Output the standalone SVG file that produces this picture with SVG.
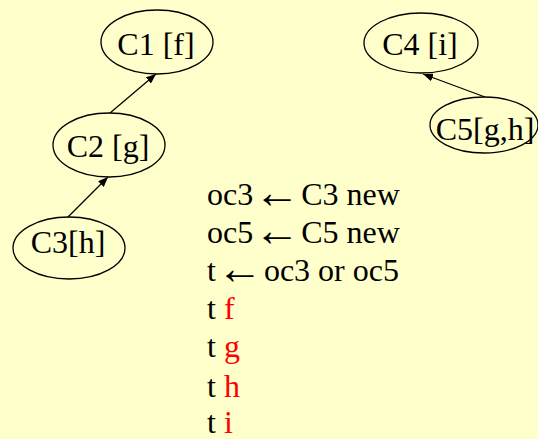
<svg xmlns="http://www.w3.org/2000/svg" width="538" height="439" viewBox="0 0 538 439" font-family="Liberation Serif, Times New Roman, serif" font-size="32">
<defs>
<style>
.n ellipse{fill:none;stroke:#000;stroke-width:1.3}
.n text{text-anchor:middle}
.r{fill:#FF0000}
.a{font-size:46px}
.e line{stroke:#000;stroke-width:1.3;marker-end:url(#ah)}
</style>
<marker id="ah" viewBox="0 0 10 8" refX="10" refY="4" markerWidth="10" markerHeight="8" markerUnits="userSpaceOnUse" orient="auto">
<path d="M0,0 L10,4 L0,8 Z" fill="#000"/>
</marker>
</defs>
<rect width="538" height="439" fill="#FFFFCC"/>
<g id="edges" class="e">
<line x1="110" y1="113" x2="156" y2="74"/>
<line x1="68" y1="217" x2="108" y2="177"/>
<line x1="485" y1="97" x2="423" y2="74"/>
</g>
<g id="C1" class="n"><ellipse cx="157" cy="42" rx="56" ry="32"/><text x="156" y="55">C1 [f]</text></g>
<g id="C2" class="n"><ellipse cx="109" cy="145" rx="56" ry="32"/><text x="108" y="157">C2 [g]</text></g>
<g id="C3" class="n"><ellipse cx="69" cy="248" rx="56" ry="31"/><text x="68" y="253">C3[h]</text></g>
<g id="C4" class="n"><ellipse cx="421" cy="43" rx="57" ry="30"/><text x="420" y="55">C4 [i]</text></g>
<g id="C5" class="n"><ellipse cx="484" cy="125" rx="54" ry="28"/><text x="485" y="140">C5[g,h]</text></g>
<g id="code">
<text x="207" y="205">oc3 <tspan class="a" dx="-7" dy="3">←</tspan><tspan dx="-7" dy="-3"> C3 new</tspan></text>
<text x="207" y="243">oc5 <tspan class="a" dx="-7" dy="3">←</tspan><tspan dx="-7" dy="-3"> C5 new</tspan></text>
<text x="207" y="281">t <tspan class="a" dx="-7" dy="3">←</tspan><tspan dx="-7" dy="-3"> oc3 or oc5</tspan></text>
<text x="207" y="319">t <tspan class="r">f</tspan></text>
<text x="207" y="357">t <tspan class="r">g</tspan></text>
<text x="207" y="397">t <tspan class="r">h</tspan></text>
<text x="207" y="433">t <tspan class="r">i</tspan></text>
</g>
</svg>
